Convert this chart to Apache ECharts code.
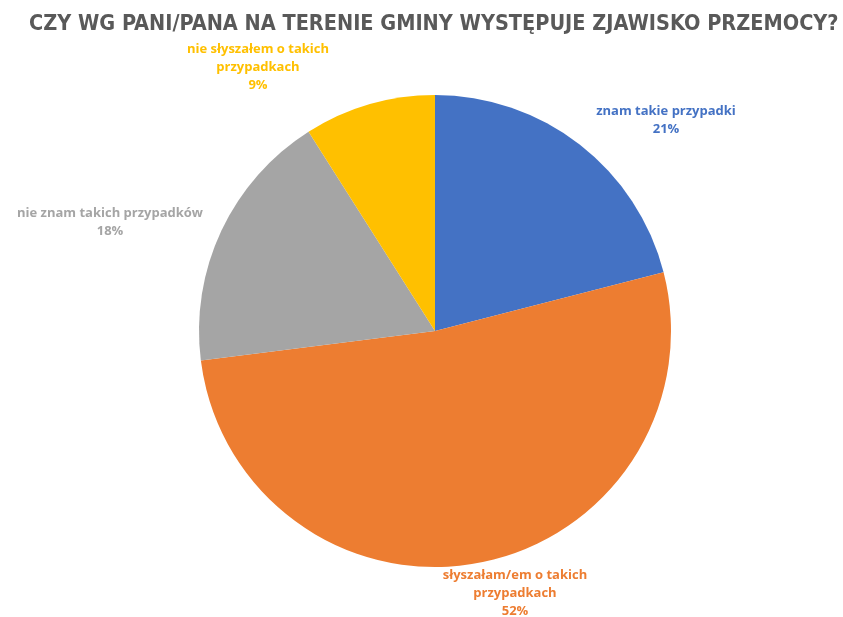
<!DOCTYPE html>
<html>
<head>
<meta charset="utf-8">
<script src="https://cdn.jsdelivr.net/npm/echarts@6/dist/echarts.min.js"></script>
<style>
  html, body { margin: 0; padding: 0; background: #fff; }
  #chart { width: 843px; height: 617px; }
</style>
</head>
<body>
<div id="chart"></div>
<script>
  var categories = ['znam takie przypadki', 'słyszałam/em o takich\nprzypadkach', 'nie znam takich przypadków', 'nie słyszałem o takich\nprzypadkach'];
  var values = [21, 52, 18, 9];
  var colors = ['#4472C4', '#ED7D31', '#A5A5A5', '#FFC000'];
  // label centre points, as placed in the original
  var labelPos = [[666, 120], [515, 593], [110, 222], [258, 67]];

  var chart = echarts.init(document.getElementById('chart'));
  chart.setOption({
    animation: false,
    title: {
      text: 'CZY WG PANI/PANA NA TERENIE GMINY WYSTĘPUJE ZJAWISKO PRZEMOCY?',
      left: 24,
      top: 8,
      textStyle: {
        fontFamily: '"Liberation Sans Narrow", "DejaVu Sans Condensed", sans-serif',
        fontSize: 21.5,
        fontWeight: 'bold',
        color: '#595959'
      }
    },
    series: [{
      type: 'pie',
      center: [435, 331],
      radius: 236,
      startAngle: 90,
      clockwise: true,
      data: categories.map(function (c, i) {
        return { name: c, value: values[i], itemStyle: { color: colors[i] } };
      }),
      label: {
        show: true,
        position: 'outside',
        formatter: '{b}\n{d}%',
        fontFamily: '"Open Sans", sans-serif',
        fontSize: 13,
        fontWeight: 'bold',
        lineHeight: 18,
        align: 'center',
        overflow: 'none',
        color: 'inherit'
      },
      labelLine: { show: false },
      labelLayout: function (p) {
        return {
          x: labelPos[p.dataIndex][0],
          y: labelPos[p.dataIndex][1],
          align: 'center',
          verticalAlign: 'middle'
        };
      }
    }]
  });
</script>
</body>
</html>
